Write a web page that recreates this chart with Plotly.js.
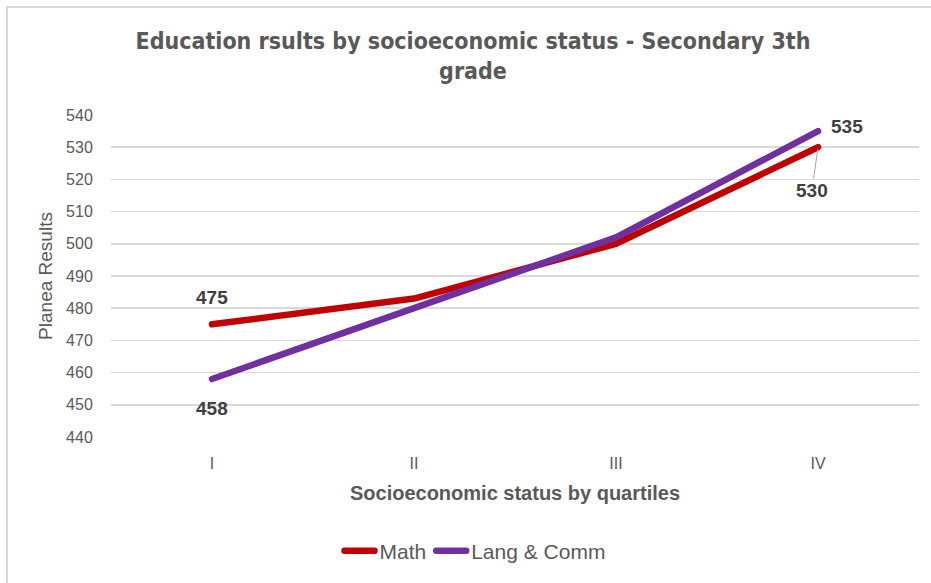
<!DOCTYPE html>
<html>
<head>
<meta charset="utf-8">
<script src="https://cdn.plot.ly/plotly-3.0.1.min.js"></script>
<style>
  html, body { margin: 0; padding: 0; background: #ffffff; }
  #wrap { position: relative; width: 931px; height: 583px; overflow: hidden; }
  #frame { position: absolute; left: 6px; top: 6px; width: 1000px; height: 700px;
           border-top: 2px solid #d9d9d9; border-left: 2px solid #d9d9d9; pointer-events: none; }
  #chart { position: absolute; left: 0; top: 0; width: 931px; height: 583px; }
  /* rounded ends and joins on the series lines and their legend swatches */
  #chart path.js-line { stroke-linecap: round; stroke-linejoin: round; }
</style>
</head>
<body>
<div id="wrap">
  <div id="chart"></div>
  <div id="frame"></div>
</div>
<script>
// Quartiles of socioeconomic status
const quartiles = ['I', 'II', 'III', 'IV'];
// Planea results per quartile
const mathScores = [475, 483, 500, 530];
const langScores = [458, 480, 502, 535];

const labelFont = { family: 'Liberation Sans, Arial, sans-serif', size: 19, color: '#404040' };
const grey = '#595959';

const traces = [
  {
    x: quartiles, y: mathScores, name: 'Math', type: 'scatter', mode: 'lines',
    line: { color: '#c00000', width: 6.5 }
  },
  {
    x: quartiles, y: langScores, name: 'Lang &amp; Comm', type: 'scatter', mode: 'lines',
    line: { color: '#7030a0', width: 6.5 }
  }
];

const last = quartiles.length - 1;
const annotations = [
  { x: quartiles[0], y: mathScores[0], text: '<b>' + mathScores[0] + '</b>', showarrow: false,
    yshift: 27, font: labelFont },
  { x: quartiles[0], y: langScores[0], text: '<b>' + langScores[0] + '</b>', showarrow: false,
    yshift: -29, font: labelFont },
  { x: quartiles[last], y: langScores[last], text: '<b>' + langScores[last] + '</b>', showarrow: false,
    xshift: 29, yshift: 5, font: labelFont },
  { x: quartiles[last], y: mathScores[last], text: '<b>' + mathScores[last] + '</b>', showarrow: true,
    arrowhead: 0, arrowwidth: 1, arrowcolor: '#a6a6a6', ax: -6, ay: 43, standoff: 2, font: labelFont }
];

const layout = {
  width: 931, height: 583,
  margin: { l: 111, r: 12, t: 115, b: 146 },
  paper_bgcolor: 'rgba(0,0,0,0)', plot_bgcolor: 'rgba(0,0,0,0)',
  font: { family: 'Liberation Sans, Arial, sans-serif', color: grey },
  title: {
    text: '<b>Education rsults by socioeconomic status - Secondary 3th<br>grade</b>',
    font: { family: 'Liberation Sans Narrow, DejaVu Sans Condensed, Arial Narrow, sans-serif', size: 23, color: grey },
    xref: 'container', x: 473 / 931, xanchor: 'center',
    yref: 'container', y: 1 - 49 / 583, yanchor: 'top'
  },
  xaxis: {
    type: 'category', range: [-0.5, 3.5],
    showgrid: false, zeroline: false, showline: false,
    ticks: 'outside', ticklen: 12, tickcolor: 'rgba(0,0,0,0)',
    tickfont: { size: 16, color: grey },
    title: { text: '<b>Socioeconomic status by quartiles</b>', font: { size: 20, color: grey }, standoff: 14 },
    fixedrange: true
  },
  yaxis: {
    range: [440, 540], dtick: 10,
    showgrid: true, gridcolor: '#d9d9d9', gridwidth: 1.5,
    zeroline: false, showline: false,
    ticks: 'outside', ticklen: 14, tickcolor: 'rgba(0,0,0,0)',
    tickfont: { size: 16, color: grey },
    title: { text: 'Planea Results', font: { size: 19, color: grey }, standoff: 8 },
    fixedrange: true
  },
  legend: {
    orientation: 'h',
    xref: 'container', x: 475 / 931, xanchor: 'center',
    yref: 'container', y: 1 - 551 / 583, yanchor: 'middle',
    font: { size: 21, color: grey },
    itemwidth: 30, tracegroupgap: 0
  },
  annotations: annotations,
  showlegend: true
};

Plotly.newPlot('chart', traces, layout, { displayModeBar: false, staticPlot: true });
</script>
</body>
</html>
